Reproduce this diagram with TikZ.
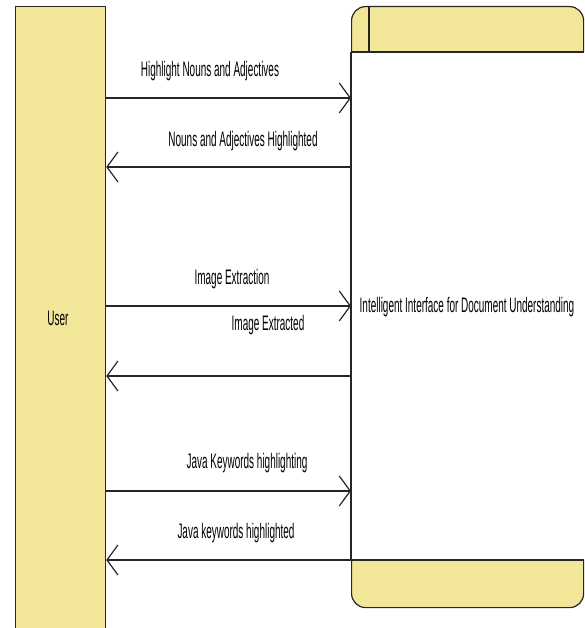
\documentclass[tikz,border=0pt]{standalone}
\usepackage{fontspec}
\setmainfont{Liberation Sans}
\usetikzlibrary{arrows.meta}
\definecolor{lanefill}{RGB}{242,231,152}
\begin{document}
\begin{tikzpicture}[x=1pt,y=-1pt,
		lane/.style={draw=black!85,line width=1.2pt,fill=lanefill,inner sep=0pt},
		msg/.style={line width=1.6pt,draw=black!85,-{Straight Barb[length=11pt,width=30pt,line width=1.2pt]}},
		lbl/.style={font=\fontsize{21}{23}\selectfont,xscale=0.475,inner sep=0pt}]
\useasboundingbox (0,0) rectangle (584,628);

% lifelines
\node[lane,minimum width=90,minimum height=630,anchor=north west] (user) at (15,6) {};
\node[lane,rounded corners=14,minimum width=232,minimum height=601,anchor=north west] (sys) at (351,6) {};
\coordinate (hd) at (0,52);
\coordinate (ft) at (0,560);
\fill[white] (sys.west |- hd) rectangle (590,560);
\draw[line width=1.2pt,black!85] (sys.west |- hd) -- (sys.east |- hd)
	(sys.west |- ft) -- (sys.east |- ft)
	(sys.west |- hd) -- (sys.west |- ft)
	(369,6) -- (369,52);
\node[lbl] (userlbl) at (58,318) {User};
\node[lbl] (syslbl) at (467,307) {Intelligent Interface for Document Understanding};

% messages
\coordinate (m1) at (0,98);
\coordinate (m2) at (0,167);
\coordinate (m3) at (0,306);
\coordinate (m4) at (0,376);
\coordinate (m5) at (0,491);
\coordinate (m6) at (0,560);
\draw[msg] (user.east |- m1) -- (sys.west |- m1);
\draw[msg] (sys.west |- m2) -- (user.east |- m2);
\draw[msg] (user.east |- m3) -- (sys.west |- m3);
\draw[msg] (sys.west |- m4) -- (user.east |- m4);
\draw[msg] (user.east |- m5) -- (sys.west |- m5);
\draw[msg] (sys.west |- m6) -- (user.east |- m6);

\node[lbl] (l1) at (210,71) {Highlight Nouns and Adjectives};
\node[lbl] (l2) at (243,141) {Nouns and Adjectives Highlighted};
\node[lbl] (l3) at (232,279) {Image Extraction};
\node[lbl] (l4) at (268,325) {Image Extracted};
\node[lbl] (l5) at (247,463) {Java Keywords highlighting};
\node[lbl] (l6) at (236,533) {Java keywords highlighted};
\end{tikzpicture}
\end{document}
